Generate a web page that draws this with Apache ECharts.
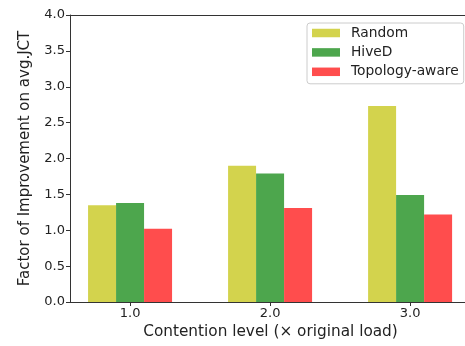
<!DOCTYPE html>
<html>
<head>
<meta charset="utf-8">
<script src="https://cdn.jsdelivr.net/npm/echarts@6/dist/echarts.min.js"></script>
<style>
  html, body { margin: 0; padding: 0; background: #fff; }
  #chart { width: 465px; height: 346px; }
</style>
</head>
<body>
<div id="chart"></div>
<script>
// contention levels (x positions) and their tick labels
const levels = [1, 2, 3];
const levelLabels = ['1.0', '2.0', '3.0'];
// improvement factors
const randomVals = [1.35, 1.90, 2.73];
const hivedVals = [1.38, 1.79, 1.49];
const topoVals = [1.02, 1.31, 1.22];

const FONT = 'DejaVu Sans';
const chart = echarts.init(document.getElementById('chart'));

function pairs(vals) {
    return levels.map((x, i) => [x, vals[i]]);
}

const xMin = 0.571, xMax = 3.435;

chart.setOption({
    animation: false,
    grid: {
        left: 70,
        top: 15,
        width: 401,
        height: 287,
        outerBoundsMode: 'none'
    },
    legend: {
        orient: 'vertical',
        left: 307,
        top: 23,
        padding: [3, 5, 5, 5],
        icon: 'rect',
        itemWidth: 28,
        itemHeight: 8.5,
        itemGap: 5.4,
        itemStyle: {borderWidth: 0},
        textStyle: {fontFamily: FONT, fontSize: 13.8, lineHeight: 14, color: '#222', padding: [0, 0, 0, 6]},
        borderColor: '#ccc',
        borderWidth: 1,
        borderRadius: 3,
        data: ['Random', 'HiveD', 'Topology-aware']
    },
    xAxis: [{
        type: 'value',
        min: xMin,
        max: xMax,
        name: 'Contention level (× original load)',
        nameLocation: 'middle',
        nameGap: 22,
        nameTextStyle: {fontFamily: FONT, fontSize: 15.3, color: '#222'},
        splitLine: {show: false},
        axisLine: {lineStyle: {color: '#333'}},
        axisTick: {show: true, length: 4, customValues: levels, lineStyle: {color: '#333'}},
        axisLabel: {
            fontFamily: FONT, fontSize: 13, color: '#222', margin: 5,
            customValues: levels,
            formatter: v => levelLabels[levels.indexOf(v)]
        }
    }, {
        // top spine only
        type: 'value',
        position: 'top',
        min: xMin,
        max: xMax,
        splitLine: {show: false},
        axisLine: {show: true, lineStyle: {color: '#333'}},
        axisTick: {show: false},
        axisLabel: {show: false}
    }],
    yAxis: {
        type: 'value',
        min: 0,
        max: 4,
        interval: 0.5,
        name: 'Factor of Improvement on avg.JCT',
        nameLocation: 'middle',
        nameGap: 37,
        nameTextStyle: {fontFamily: FONT, fontSize: 15, color: '#222'},
        splitLine: {show: false},
        axisLine: {show: true, lineStyle: {color: '#333'}},
        axisTick: {show: true, length: 4, lineStyle: {color: '#333'}},
        axisLabel: {
            fontFamily: FONT, fontSize: 13, color: '#222', margin: 5,
            formatter: v => v.toFixed(1)
        }
    },
    series: [
        {name: 'Random', type: 'bar', data: pairs(randomVals), barWidth: 28, barGap: '0%', itemStyle: {color: '#d3d34d'}},
        {name: 'HiveD', type: 'bar', data: pairs(hivedVals), barWidth: 28, barGap: '0%', itemStyle: {color: '#4da64d'}},
        {name: 'Topology-aware', type: 'bar', data: pairs(topoVals), barWidth: 28, barGap: '0%', itemStyle: {color: '#ff4d4d'}}
    ]
});
</script>
</body>
</html>
